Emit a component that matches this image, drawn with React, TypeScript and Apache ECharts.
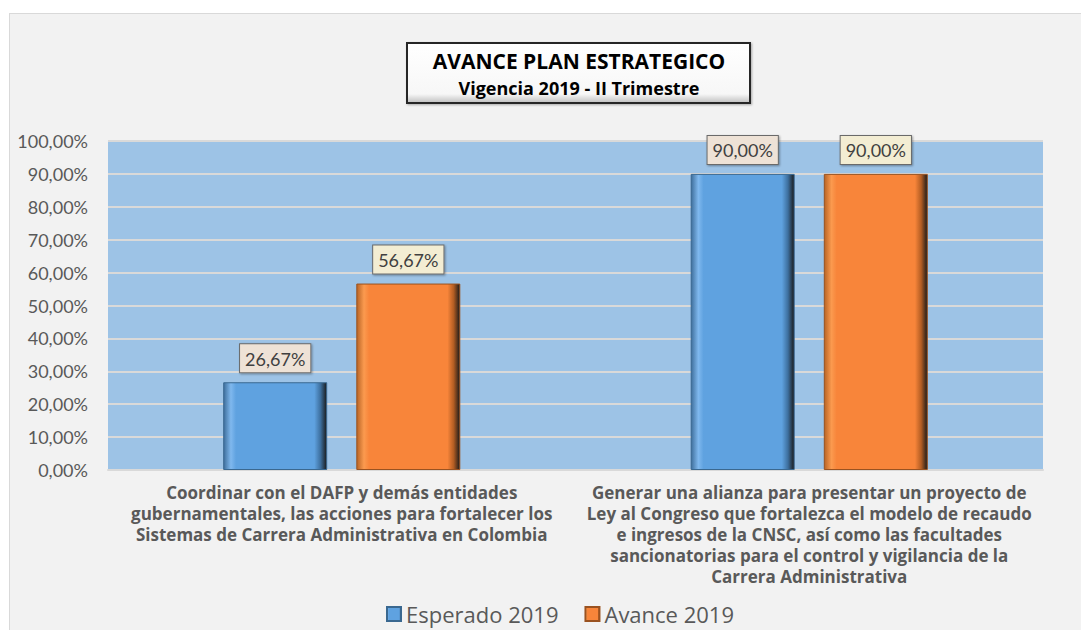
import React, { useEffect, useRef } from "react";
import * as echarts from "echarts";

const categories = [
  "Coordinar con el DAFP y demás entidades\ngubernamentales, las acciones para fortalecer los\nSistemas de Carrera Administrativa en Colombia",
  "Generar una alianza para presentar un proyecto de\nLey al Congreso que fortalezca el modelo de recaudo\ne ingresos de la CNSC, así como las facultades\nsancionatorias para el control y vigilancia de la\nCarrera Administrativa",
];
const seriesNames = ["Esperado 2019", "Avance 2019"];
const esperado = [26.67, 90.0];
const avance = [56.67, 90.0];
const titleLines = ["AVANCE PLAN ESTRATEGICO", "Vigencia 2019 - II Trimestre"];

const fmt = (v: number) => v.toFixed(2).replace(".", ",") + "%";

const FONT = "Lato, 'Open Sans', sans-serif";
const WIDE = "'Open Sans', Lato, sans-serif";

function barGradient(light: string, base: string, dark: string, edge: string) {
  return new echarts.graphic.LinearGradient(0, 0, 1, 0, [
    { offset: 0, color: edge },
    { offset: 0.07, color: light },
    { offset: 0.12, color: base },
    { offset: 0.88, color: base },
    { offset: 0.94, color: dark },
    { offset: 1, color: "#1a1a1a" },
  ]);
}

export default function App() {
  const ref = useRef<HTMLDivElement>(null);
  useEffect(() => {
    if (!ref.current) return;
    const chart = echarts.init(ref.current, undefined, { renderer: "svg" });
    const labelCommon = {
      show: true,
      position: "top" as const,
      distance: 10,
      formatter: (p: any) => fmt(p.value),
      fontFamily: FONT,
      fontSize: 18,
      color: "#404040",
      borderColor: "#6b6b6b",
      borderWidth: 1,
      padding: [4, 5, 3, 5],
      lineHeight: 21,
      shadowColor: "rgba(0,0,0,0.35)",
      shadowBlur: 2,
      shadowOffsetX: 1,
      shadowOffsetY: 1,
    };
    chart.setOption({
      animation: false,
      backgroundColor: "transparent",
      graphic: [
        {
          type: "rect",
          shape: { x: 407, y: 43, width: 343, height: 60 },
          style: {
            fill: new echarts.graphic.LinearGradient(0, 0, 0, 1, [
              { offset: 0, color: "#ffffff" },
              { offset: 0.85, color: "#f7f7f7" },
              { offset: 1, color: "#bfbfbf" },
            ]),
            stroke: "#262626",
            lineWidth: 2,
            shadowColor: "rgba(0,0,0,0.3)",
            shadowBlur: 2,
            shadowOffsetX: 1,
            shadowOffsetY: 1,
          },
          z: 10,
        },
        {
          type: "text",
          x: 579,
          y: 61,
          z: 11,
          style: {
            text: titleLines[0],
            fontFamily: WIDE,
            fontWeight: "bold",
            fontSize: 21,
            fill: "#000000",
            align: "center",
            verticalAlign: "middle",
          },
        },
        {
          type: "text",
          x: 579,
          y: 88,
          z: 11,
          style: {
            text: titleLines[1],
            fontFamily: WIDE,
            fontWeight: "bold",
            fontSize: 18,
            fill: "#000000",
            align: "center",
            verticalAlign: "middle",
          },
        },
      ],
      legend: {
        left: 381,
        top: 598,
        itemWidth: 14,
        itemHeight: 14,
        itemGap: 26,
        icon: "rect",
        textStyle: { fontFamily: WIDE, fontSize: 22, color: "#595959" },
        data: seriesNames,
      },
      grid: {
        left: 108,
        right: 38,
        top: 141,
        bottom: 160,
        show: true,
        backgroundColor: "#9dc3e6",
        borderWidth: 0,
      },
      xAxis: {
        type: "category",
        data: categories,
        axisLine: { show: true, lineStyle: { color: "#d9d9d9", width: 2 } },
        axisTick: { show: false },
        axisLabel: {
          interval: 0,
          margin: 12,
          fontFamily: WIDE,
          fontWeight: "bold",
          fontSize: 17,
          lineHeight: 21,
          color: "#595959",
          align: "center",
        },
      },
      yAxis: {
        type: "value",
        min: 0,
        max: 100,
        interval: 10,
        axisLine: { show: false },
        axisTick: { show: false },
        splitLine: { lineStyle: { color: "#d9d9d9", width: 2 } },
        axisLabel: {
          formatter: (v: number) => fmt(v),
          fontFamily: FONT,
          fontSize: 18,
          color: "#595959",
          margin: 20,
        },
      },
      series: [
        {
          name: seriesNames[0],
          type: "bar",
          data: esperado,
          barWidth: 104,
          barGap: "28%",
          itemStyle: {
            color: barGradient("#7fb8ee", "#5fa2e0", "#3d6f9e", "#3f6f9c"),
            borderColor: "#3a6890",
            borderWidth: 1,
          },
          label: {
            ...labelCommon,
            backgroundColor: "#eee2d6",
          },
        },
        {
          name: seriesNames[1],
          type: "bar",
          data: avance,
          barWidth: 104,
          barGap: "28%",
          itemStyle: {
            color: barGradient("#fb9a4f", "#f8853a", "#b35d23", "#b86425"),
            borderColor: "#9a5220",
            borderWidth: 1,
          },
          label: {
            ...labelCommon,
            backgroundColor: "#f3edd3",
          },
        },
      ],
    });
    return () => chart.dispose();
  }, []);

  return (
    <div style={{ position: "fixed", left: 0, top: 0, width: 1081, height: 630, background: "#ffffff", overflow: "hidden" }}>
      <div
        style={{
          position: "absolute",
          left: 9,
          top: 13,
          width: 1100,
          height: 700,
          background: "#f2f2f2",
          border: "1px solid #d9d9d9",
        }}
      />
      <div ref={ref} style={{ position: "absolute", left: 0, top: 0, width: 1081, height: 630 }} />
    </div>
  );
}
